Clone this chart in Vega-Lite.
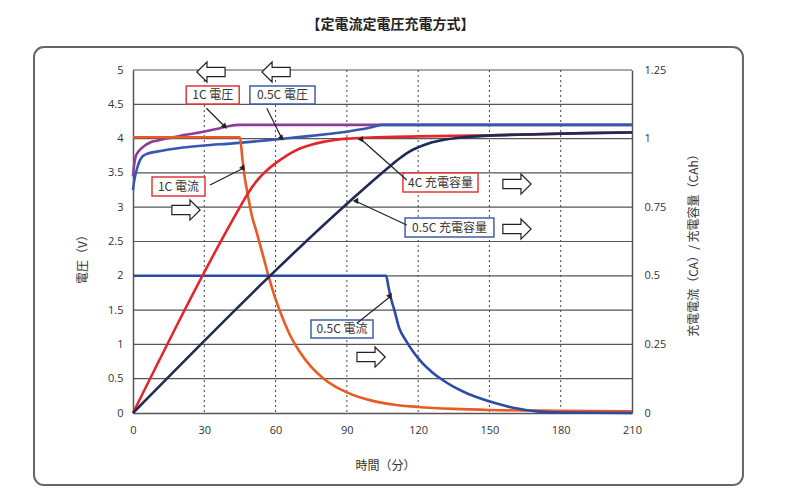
{
  "$schema": "https://vega.github.io/schema/vega-lite/v6.json",
  "width": 499,
  "height": 343,
  "autosize": {"type": "none"},
  "padding": {"left": 133, "top": 70, "right": 157, "bottom": 82},
  "background": "white",
  "title": {"text": "【定電流定電圧充電方式】", "font": "Noto Sans CJK JP", "fontSize": 14, "fontWeight": "bold", "color": "#222", "anchor": "middle", "offset": 0, "baseline": "bottom", "dx": 8},
  "config": {
    "view": {"stroke": null},
    "axis": {"labelFont": "Open Sans", "labelFontSize": 11, "labelColor": "#333", "titleFont": "Noto Sans CJK JP", "titleFontSize": 12, "titleFontWeight": "normal", "titleColor": "#333", "labelOverlap": false, "labelFlush": false}
  },
  "datasets": {
    "voltage": [
      {"s": "1C 電圧", "t": 0, "v": 3.45}, {"s": "1C 電圧", "t": 0.5, "v": 3.62}, {"s": "1C 電圧", "t": 1, "v": 3.72}, {"s": "1C 電圧", "t": 2, "v": 3.8}, {"s": "1C 電圧", "t": 3, "v": 3.84}, {"s": "1C 電圧", "t": 5, "v": 3.9}, {"s": "1C 電圧", "t": 7, "v": 3.94}, {"s": "1C 電圧", "t": 10, "v": 3.97}, {"s": "1C 電圧", "t": 14, "v": 4.0}, {"s": "1C 電圧", "t": 20, "v": 4.04}, {"s": "1C 電圧", "t": 28, "v": 4.09}, {"s": "1C 電圧", "t": 35, "v": 4.14}, {"s": "1C 電圧", "t": 40, "v": 4.18}, {"s": "1C 電圧", "t": 45, "v": 4.2}, {"s": "1C 電圧", "t": 210, "v": 4.2},
      {"s": "0.5C 電圧", "t": 0, "v": 3.25}, {"s": "0.5C 電圧", "t": 0.5, "v": 3.38}, {"s": "0.5C 電圧", "t": 1, "v": 3.47}, {"s": "0.5C 電圧", "t": 2, "v": 3.6}, {"s": "0.5C 電圧", "t": 3, "v": 3.69}, {"s": "0.5C 電圧", "t": 4, "v": 3.74}, {"s": "0.5C 電圧", "t": 6, "v": 3.78}, {"s": "0.5C 電圧", "t": 10, "v": 3.81}, {"s": "0.5C 電圧", "t": 15, "v": 3.84}, {"s": "0.5C 電圧", "t": 21, "v": 3.87}, {"s": "0.5C 電圧", "t": 30, "v": 3.9}, {"s": "0.5C 電圧", "t": 42, "v": 3.93}, {"s": "0.5C 電圧", "t": 55, "v": 3.97}, {"s": "0.5C 電圧", "t": 65, "v": 4.005}, {"s": "0.5C 電圧", "t": 75, "v": 4.04}, {"s": "0.5C 電圧", "t": 84, "v": 4.075}, {"s": "0.5C 電圧", "t": 90, "v": 4.1}, {"s": "0.5C 電圧", "t": 96, "v": 4.135}, {"s": "0.5C 電圧", "t": 101, "v": 4.17}, {"s": "0.5C 電圧", "t": 105, "v": 4.2}, {"s": "0.5C 電圧", "t": 210, "v": 4.2}
    ],
    "current": [
      {"s": "1C 電流", "t": 0, "a": 1.005}, {"s": "1C 電流", "t": 45, "a": 1.005}, {"s": "1C 電流", "t": 46, "a": 0.93}, {"s": "1C 電流", "t": 47, "a": 0.86}, {"s": "1C 電流", "t": 48, "a": 0.81}, {"s": "1C 電流", "t": 50, "a": 0.72}, {"s": "1C 電流", "t": 52, "a": 0.66}, {"s": "1C 電流", "t": 55, "a": 0.565}, {"s": "1C 電流", "t": 57, "a": 0.5}, {"s": "1C 電流", "t": 60, "a": 0.415}, {"s": "1C 電流", "t": 63, "a": 0.345}, {"s": "1C 電流", "t": 66, "a": 0.285}, {"s": "1C 電流", "t": 70, "a": 0.225}, {"s": "1C 電流", "t": 75, "a": 0.168}, {"s": "1C 電流", "t": 80, "a": 0.127}, {"s": "1C 電流", "t": 85, "a": 0.097}, {"s": "1C 電流", "t": 90, "a": 0.075}, {"s": "1C 電流", "t": 95, "a": 0.058}, {"s": "1C 電流", "t": 100, "a": 0.046}, {"s": "1C 電流", "t": 105, "a": 0.037}, {"s": "1C 電流", "t": 110, "a": 0.03}, {"s": "1C 電流", "t": 120, "a": 0.022}, {"s": "1C 電流", "t": 135, "a": 0.015}, {"s": "1C 電流", "t": 150, "a": 0.011}, {"s": "1C 電流", "t": 180, "a": 0.008}, {"s": "1C 電流", "t": 210, "a": 0.006},
      {"s": "0.5C 電流", "t": 0, "a": 0.5}, {"s": "0.5C 電流", "t": 106.5, "a": 0.5}, {"s": "0.5C 電流", "t": 107.5, "a": 0.46}, {"s": "0.5C 電流", "t": 108.5, "a": 0.42}, {"s": "0.5C 電流", "t": 110, "a": 0.375}, {"s": "0.5C 電流", "t": 112, "a": 0.31}, {"s": "0.5C 電流", "t": 115, "a": 0.262}, {"s": "0.5C 電流", "t": 118, "a": 0.222}, {"s": "0.5C 電流", "t": 122, "a": 0.18}, {"s": "0.5C 電流", "t": 126, "a": 0.148}, {"s": "0.5C 電流", "t": 130, "a": 0.122}, {"s": "0.5C 電流", "t": 135, "a": 0.095}, {"s": "0.5C 電流", "t": 140, "a": 0.074}, {"s": "0.5C 電流", "t": 146, "a": 0.054}, {"s": "0.5C 電流", "t": 152, "a": 0.037}, {"s": "0.5C 電流", "t": 160, "a": 0.019}, {"s": "0.5C 電流", "t": 170, "a": 0.006}, {"s": "0.5C 電流", "t": 180, "a": 0.002}, {"s": "0.5C 電流", "t": 210, "a": 0.0},
      {"s": "1C 充電容量", "t": 0, "a": 0}, {"s": "1C 充電容量", "t": 45, "a": 0.75}, {"s": "1C 充電容量", "t": 48, "a": 0.795}, {"s": "1C 充電容量", "t": 52, "a": 0.845}, {"s": "1C 充電容量", "t": 56, "a": 0.882}, {"s": "1C 充電容量", "t": 60, "a": 0.91}, {"s": "1C 充電容量", "t": 65, "a": 0.94}, {"s": "1C 充電容量", "t": 70, "a": 0.963}, {"s": "1C 充電容量", "t": 75, "a": 0.978}, {"s": "1C 充電容量", "t": 80, "a": 0.988}, {"s": "1C 充電容量", "t": 85, "a": 0.995}, {"s": "1C 充電容量", "t": 90, "a": 1.0}, {"s": "1C 充電容量", "t": 100, "a": 1.004}, {"s": "1C 充電容量", "t": 120, "a": 1.008}, {"s": "1C 充電容量", "t": 150, "a": 1.012}, {"s": "1C 充電容量", "t": 180, "a": 1.018}, {"s": "1C 充電容量", "t": 210, "a": 1.023},
      {"s": "0.5C 充電容量", "t": 0, "a": 0}, {"s": "0.5C 充電容量", "t": 107, "a": 0.891}, {"s": "0.5C 充電容量", "t": 110, "a": 0.913}, {"s": "0.5C 充電容量", "t": 113, "a": 0.933}, {"s": "0.5C 充電容量", "t": 116, "a": 0.951}, {"s": "0.5C 充電容量", "t": 120, "a": 0.968}, {"s": "0.5C 充電容量", "t": 125, "a": 0.984}, {"s": "0.5C 充電容量", "t": 130, "a": 0.994}, {"s": "0.5C 充電容量", "t": 138, "a": 1.004}, {"s": "0.5C 充電容量", "t": 150, "a": 1.011}, {"s": "0.5C 充電容量", "t": 170, "a": 1.016}, {"s": "0.5C 充電容量", "t": 190, "a": 1.02}, {"s": "0.5C 充電容量", "t": 210, "a": 1.022}
    ],
    "frame": [{"x1": -41.67, "x2": 256.7, "y1": -1.05, "y2": 5.335}],
    "vgrid": [{"t": 30}, {"t": 60}, {"t": 90}, {"t": 120}, {"t": 150}, {"t": 180}],
    "hgrid": [{"v": 0.5}, {"v": 1}, {"v": 1.5}, {"v": 2}, {"v": 2.5}, {"v": 3}, {"v": 3.5}, {"v": 4}, {"v": 4.5}, {"v": 5}],
    "boxes": [
      {"label": "1C 電圧", "grp": "1C", "x1": 22.4, "x2": 44.7, "y1": 4.504, "y2": 4.767, "cx": 33.6, "cy": 4.636},
      {"label": "0.5C 電圧", "grp": "0.5C", "x1": 49.2, "x2": 76.6, "y1": 4.504, "y2": 4.767, "cx": 62.9, "cy": 4.636},
      {"label": "1C 電流", "grp": "1C", "x1": 8.0, "x2": 30.3, "y1": 3.163, "y2": 3.44, "cx": 19.1, "cy": 3.3},
      {"label": "4C 充電容量", "grp": "1C", "x1": 113.6, "x2": 145.2, "y1": 3.222, "y2": 3.499, "cx": 129.4, "cy": 3.36},
      {"label": "0.5C 充電容量", "grp": "0.5C", "x1": 114.5, "x2": 151.9, "y1": 2.566, "y2": 2.843, "cx": 133.2, "cy": 2.704},
      {"label": "0.5C 電流", "grp": "0.5C", "x1": 74.9, "x2": 101.0, "y1": 1.093, "y2": 1.356, "cx": 88.0, "cy": 1.224}
    ],
    "leaders": [
      {"id": "a", "t": 30.9, "v": 4.442, "t2": 38.7, "v2": 4.173},
      {"id": "b", "t": 56.3, "v": 4.442, "t2": 62.6, "v2": 4.004},
      {"id": "c", "t": 32.4, "v": 3.324, "t2": 46.4, "v2": 3.567},
      {"id": "d", "t": 115.2, "v": 3.397, "t2": 96.3, "v2": 3.98},
      {"id": "e", "t": 115.2, "v": 2.741, "t2": 94.2, "v2": 3.08},
      {"id": "f", "t": 94.2, "v": 1.308, "t2": 108.2, "v2": 1.695}
    ],
    "arrows": [
      {"t": 32.8, "v": 4.971, "dir": "left"},
      {"t": 60.2, "v": 4.971, "dir": "left"},
      {"t": 22.3, "v": 2.959, "dir": "right"},
      {"t": 161.6, "v": 3.338, "dir": "right"},
      {"t": 161.6, "v": 2.682, "dir": "right"},
      {"t": 100.2, "v": 0.816, "dir": "right"}
    ]
  },
  "layer": [
    {
      "layer": [
        {
          "data": {"name": "frame"},
          "mark": {"type": "rect", "fill": null, "stroke": "#666", "strokeWidth": 2, "cornerRadius": 10},
          "encoding": {
            "x": {"field": "x1", "type": "quantitative", "scale": {"domain": [0, 210], "nice": false, "zero": false}, "axis": {"values": [0, 30, 60, 90, 120, 150, 180, 210], "grid": false, "ticks": false, "domainColor": "#555", "domainWidth": 1.5, "labelPadding": 11, "title": "時間（分）", "titleX": 252, "titleY": 52, "titleBaseline": "middle"}},
            "x2": {"field": "x2"},
            "y": {"field": "y1", "type": "quantitative", "scale": {"domain": [0, 5], "nice": false, "zero": false}, "axis": {"values": [0, 0.5, 1, 1.5, 2, 2.5, 3, 3.5, 4, 4.5, 5], "tickCount": 11, "format": ".3~g", "grid": false, "ticks": false, "domainColor": "#555", "domainWidth": 1.5, "labelPadding": 10, "title": "電圧（V）", "titleX": -51, "titleY": 186, "titleBaseline": "middle", "titleAngle": -90}},
            "y2": {"field": "y2"}
          }
        },
        {
          "data": {"name": "hgrid"},
          "mark": {"type": "rule", "color": "#555", "strokeWidth": 1.2},
          "encoding": {"y": {"field": "v", "type": "quantitative"}}
        },
        {
          "data": {"name": "vgrid"},
          "mark": {"type": "rule", "color": "#444", "strokeWidth": 1, "strokeDash": [2, 3]},
          "encoding": {"x": {"field": "t", "type": "quantitative"}}
        },
        {
          "data": {"name": "voltage"},
          "mark": {"type": "line", "strokeWidth": 2.6, "interpolate": "monotone"},
          "encoding": {
            "x": {"field": "t", "type": "quantitative"},
            "y": {"field": "v", "type": "quantitative"},
            "color": {"field": "s", "type": "nominal", "scale": {"domain": ["1C 電圧", "0.5C 電圧"], "range": ["#8E3C97", "#3558B0"]}, "legend": null},
            "order": {"field": "t", "type": "quantitative"}
          }
        }
      ]
    },
    {
      "data": {"name": "current"},
      "mark": {"type": "line", "strokeWidth": 2.6, "interpolate": "monotone"},
      "encoding": {
        "x": {"field": "t", "type": "quantitative"},
        "y": {"field": "a", "type": "quantitative", "scale": {"domain": [0, 1.25], "nice": false, "zero": false}, "axis": {"orient": "right", "values": [0, 0.25, 0.5, 0.75, 1, 1.25], "format": ".3~g", "grid": false, "ticks": false, "domainColor": "#555", "domainWidth": 1.5, "labelPadding": 12, "title": "充電電流（CA）/ 充電容量（CAh）", "titleX": 61, "titleY": 172, "titleBaseline": "middle", "titleAngle": -90}},
        "color": {"field": "s", "type": "nominal", "scale": {"domain": ["1C 電流", "0.5C 電流", "1C 充電容量", "0.5C 充電容量"], "range": ["#EA5A24", "#2B4BA6", "#E4262B", "#1F2A56"]}, "legend": null},
        "order": {"field": "t", "type": "quantitative"}
      }
    },
    {
      "layer": [
        {
          "data": {"name": "boxes"},
          "mark": {"type": "rect", "fill": "white", "strokeWidth": 1.5},
          "encoding": {
            "x": {"field": "x1", "type": "quantitative"},
            "x2": {"field": "x2"},
            "y": {"field": "y1", "type": "quantitative", "scale": {"domain": [0, 5], "nice": false, "zero": false}, "axis": null},
            "y2": {"field": "y2"},
            "stroke": {"field": "grp", "type": "nominal", "scale": {"domain": ["1C", "0.5C"], "range": ["#E0383A", "#3E5FA8"]}, "legend": null}
          }
        },
        {
          "data": {"name": "boxes"},
          "mark": {"type": "text", "font": "Noto Sans CJK JP", "fontSize": 12, "color": "#333", "align": "center", "baseline": "middle"},
          "encoding": {
            "x": {"field": "cx", "type": "quantitative"},
            "y": {"field": "cy", "type": "quantitative"},
            "text": {"field": "label"}
          }
        },
        {
          "data": {"name": "leaders"},
          "mark": {"type": "rule", "color": "#222", "strokeWidth": 1.2},
          "encoding": {
            "x": {"field": "t", "type": "quantitative"},
            "y": {"field": "v", "type": "quantitative"},
            "x2": {"field": "t2"},
            "y2": {"field": "v2"}
          }
        },
        {
          "data": {"name": "leaders"},
          "mark": {"type": "point", "shape": "triangle-up", "filled": true, "color": "#222", "opacity": 1, "size": 40},
          "encoding": {
            "x": {"field": "t2", "type": "quantitative"},
            "y": {"field": "v2", "type": "quantitative"},
            "angle": {"field": "id", "type": "nominal", "scale": {"domain": ["a", "b", "c", "d", "e", "f"], "range": [135, 153, 63, 312, 295, 51]}, "legend": null}
          }
        },
        {
          "data": {"name": "arrows"},
          "mark": {"type": "point", "filled": true, "fill": "white", "stroke": "#222", "strokeWidth": 1.2, "opacity": 1, "size": 800},
          "encoding": {
            "x": {"field": "t", "type": "quantitative"},
            "y": {"field": "v", "type": "quantitative"},
            "shape": {"field": "dir", "type": "nominal", "scale": {"domain": ["left", "right"], "range": ["M1,-0.33L-0.28,-0.33L-0.28,-0.71L-1,0L-0.28,0.71L-0.28,0.33L1,0.33Z", "M-1,-0.33L0.28,-0.33L0.28,-0.71L1,0L0.28,0.71L0.28,0.33L-1,0.33Z"]}, "legend": null}
          }
        }
      ]
    }
  ],
  "resolve": {"scale": {"y": "independent", "color": "independent", "stroke": "independent", "shape": "independent", "angle": "independent"}}
}
